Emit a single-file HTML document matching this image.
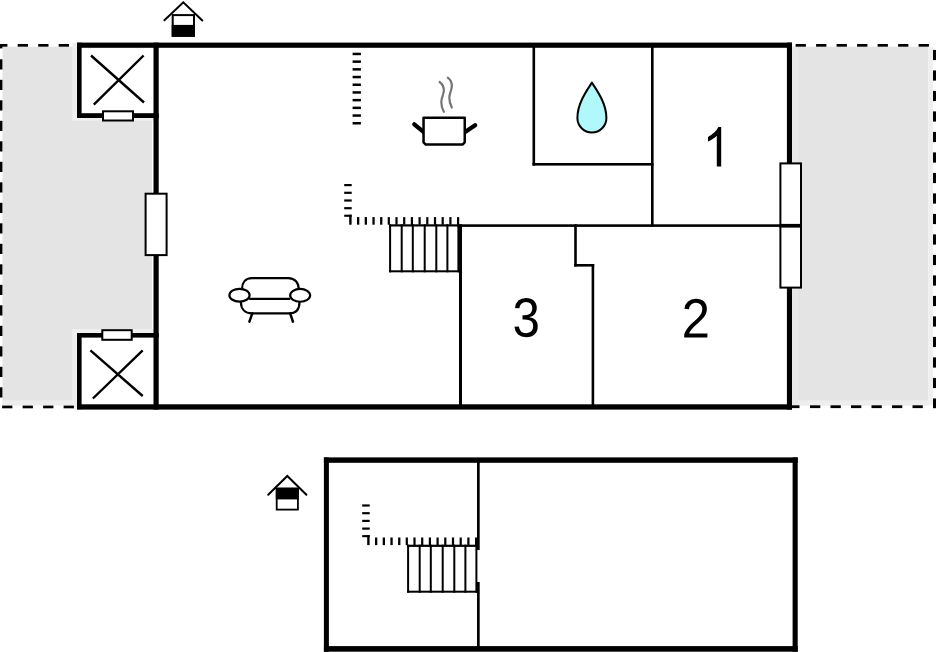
<!DOCTYPE html>
<html><head><meta charset="utf-8">
<style>
html,body{margin:0;padding:0;background:#fff;width:936px;height:652px;overflow:hidden}
svg{display:block}
text{font-family:"Liberation Sans",sans-serif}
</style></head>
<body>
<svg width="936" height="652" viewBox="0 0 936 652">
<!-- grey terraces -->
<rect x="2.5" y="46.7" width="149.5" height="358.6" fill="#e4e4e4"/>
<rect x="2.5" y="400.3" width="71" height="5" fill="#ededed"/>
<rect x="792" y="46.7" width="136.3" height="358.6" fill="#e4e4e4"/>
<rect x="792" y="46.7" width="6" height="358.6" fill="#e8e8e8"/>
<rect x="928.3" y="46.7" width="4.7" height="358.6" fill="#efefef"/>
<rect x="798" y="400.3" width="130.3" height="5" fill="#ededed"/>
<!-- closets white with halo -->
<rect x="72.3" y="42.7" width="82" height="78" fill="#efefef"/>
<rect x="72.3" y="329" width="82" height="80" fill="#efefef"/>
<rect x="77" y="42.7" width="81.7" height="75.3" fill="#fff"/>
<rect x="77" y="333" width="81.7" height="76" fill="#fff"/>

<!-- dashed borders -->
<g fill="#000">
  <!-- top-left -->
  <rect x="0" y="44" width="7.4" height="2.7"/>
  <rect x="17.7" y="44" width="10.3" height="2.7"/>
  <rect x="38.2" y="44" width="10.3" height="2.7"/>
  <rect x="58.7" y="44" width="10.3" height="2.7"/>
  <!-- left vertical -->
  <rect x="0" y="44" width="2.4" height="4.4"/>
  <g id="ldash">
  <rect x="0" y="59.3" width="2.4" height="10.2"/>
  <rect x="0" y="79.8" width="2.4" height="10.2"/>
  <rect x="0" y="100.3" width="2.4" height="10.2"/>
  <rect x="0" y="120.8" width="2.4" height="10.2"/>
  <rect x="0" y="141.3" width="2.4" height="10.2"/>
  <rect x="0" y="161.8" width="2.4" height="10.2"/>
  <rect x="0" y="182.3" width="2.4" height="10.2"/>
  <rect x="0" y="202.8" width="2.4" height="10.2"/>
  <rect x="0" y="223.3" width="2.4" height="10.2"/>
  <rect x="0" y="243.8" width="2.4" height="10.2"/>
  <rect x="0" y="264.3" width="2.4" height="10.2"/>
  <rect x="0" y="284.8" width="2.4" height="10.2"/>
  <rect x="0" y="305.3" width="2.4" height="10.2"/>
  <rect x="0" y="325.8" width="2.4" height="10.2"/>
  <rect x="0" y="346.3" width="2.4" height="10.2"/>
  <rect x="0" y="366.8" width="2.4" height="10.2"/>
  <rect x="0" y="387.3" width="2.4" height="10.2"/>
  </g>
  <!-- bottom-left -->
  <rect x="2.1" y="405.6" width="10.3" height="2.7"/>
  <rect x="22.6" y="405.6" width="10.3" height="2.7"/>
  <rect x="43.1" y="405.6" width="10.3" height="2.7"/>
  <rect x="63.6" y="405.6" width="10.3" height="2.7"/>
  <!-- top-right -->
  <rect x="795.6" y="44" width="10.3" height="2.7"/>
  <rect x="816.1" y="44" width="10.3" height="2.7"/>
  <rect x="836.6" y="44" width="10.3" height="2.7"/>
  <rect x="857.1" y="44" width="10.3" height="2.7"/>
  <rect x="877.6" y="44" width="10.3" height="2.7"/>
  <rect x="898.1" y="44" width="10.3" height="2.7"/>
  <rect x="918.6" y="44" width="10.3" height="2.7"/>
  <!-- right vertical -->
  <rect x="933" y="49.9" width="3" height="10.2"/>
  <rect x="933" y="70.4" width="3" height="10.2"/>
  <rect x="933" y="90.9" width="3" height="10.2"/>
  <rect x="933" y="111.4" width="3" height="10.2"/>
  <rect x="933" y="131.9" width="3" height="10.2"/>
  <rect x="933" y="152.4" width="3" height="10.2"/>
  <rect x="933" y="172.9" width="3" height="10.2"/>
  <rect x="933" y="193.4" width="3" height="10.2"/>
  <rect x="933" y="213.9" width="3" height="10.2"/>
  <rect x="933" y="234.4" width="3" height="10.2"/>
  <rect x="933" y="254.9" width="3" height="10.2"/>
  <rect x="933" y="275.4" width="3" height="10.2"/>
  <rect x="933" y="295.9" width="3" height="10.2"/>
  <rect x="933" y="316.4" width="3" height="10.2"/>
  <rect x="933" y="336.9" width="3" height="10.2"/>
  <rect x="933" y="357.4" width="3" height="10.2"/>
  <rect x="933" y="377.9" width="3" height="10.2"/>
  <rect x="933" y="398.4" width="3" height="9.8"/>
  <!-- bottom-right -->
  <rect x="792" y="405.3" width="7.5" height="2.8"/>
  <rect x="810" y="405.3" width="10.3" height="2.8"/>
  <rect x="830.5" y="405.3" width="10.3" height="2.8"/>
  <rect x="851" y="405.3" width="10.3" height="2.8"/>
  <rect x="871.5" y="405.3" width="10.3" height="2.8"/>
  <rect x="892" y="405.3" width="10.3" height="2.8"/>
  <rect x="912.5" y="405.3" width="10.3" height="2.8"/>
</g>

<!-- thick walls -->
<g fill="#000">
  <rect x="77" y="42.6" width="715" height="5.2"/>
  <rect x="77" y="404.3" width="715" height="5.3"/>
  <rect x="786.9" y="42.6" width="5.1" height="367"/>
  <rect x="153.5" y="42.6" width="5.2" height="367"/>
  <rect x="77" y="42.7" width="4.6" height="75.3"/>
  <rect x="77" y="113.2" width="81.7" height="4.8"/>
  <rect x="77" y="333" width="4.6" height="76.2"/>
  <rect x="77" y="333" width="81.7" height="4.6"/>
</g>

<!-- thin inner walls -->
<g fill="#000">
  <rect x="532.5" y="46" width="2.6" height="119.6"/>
  <rect x="532.5" y="163" width="121" height="2.6"/>
  <rect x="651" y="46" width="2.6" height="180.8"/>
  <rect x="457.5" y="224.3" width="331" height="2.6"/>
  <rect x="459" y="224.3" width="3" height="182"/>
  <rect x="574.2" y="224.3" width="2.6" height="42.2"/>
  <rect x="574.2" y="264" width="20" height="2.6"/>
  <rect x="591.6" y="264" width="2.6" height="142"/>
</g>

<!-- X marks in closets -->
<g stroke="#000" stroke-width="2.4" fill="none">
  <path d="M91 55.5 L144 102.5 M143.6 55.5 L93.8 104.6"/>
  <path d="M90.4 350.4 L142.7 396 M142.7 350.4 L92.9 398.5"/>
</g>

<!-- windows -->
<g fill="#fff" stroke="#000" stroke-width="2">
  <rect x="103" y="111.3" width="30" height="9.2"/>
  <rect x="102.3" y="330.2" width="29.4" height="9.6"/>
  <rect x="145.6" y="193.7" width="21" height="61.4"/>
  <rect x="780.4" y="163.4" width="20.6" height="124.2"/>
</g>
<rect x="779.4" y="223.9" width="22.6" height="3.7" fill="#000"/>

<!-- stairs upper -->
<g fill="#000">
  <rect x="344.2" y="184" width="7.5" height="2.2"/>
  <rect x="344.2" y="191.7" width="7.5" height="2.2"/>
  <rect x="344.2" y="199.4" width="7.5" height="2.2"/>
  <rect x="344.2" y="207.1" width="7.5" height="2.2"/>
  <rect x="344.2" y="214.7" width="7.5" height="2.1"/>
  <rect x="349.2" y="214.7" width="2.4" height="10"/>
  <rect x="357" y="217.1" width="2.3" height="7.6"/>
  <rect x="364.7" y="217.1" width="2.3" height="7.6"/>
  <rect x="372.4" y="217.1" width="2.3" height="7.6"/>
  <rect x="380.1" y="217.1" width="2.3" height="7.6"/>
  <rect x="387.7" y="217.1" width="2.2" height="7.6"/>
  <rect x="395.4" y="217.1" width="2.2" height="7.6"/>
  <rect x="403.1" y="217.1" width="2.2" height="7.6"/>
  <rect x="410.8" y="217.1" width="2.2" height="7.6"/>
  <rect x="418.5" y="217.1" width="2.2" height="7.6"/>
  <rect x="426.2" y="217.1" width="2.2" height="7.6"/>
  <rect x="433.9" y="217.1" width="2.2" height="7.6"/>
  <rect x="441.6" y="217.1" width="2.2" height="7.6"/>
  <rect x="449.3" y="217.1" width="2.2" height="7.6"/>
  <rect x="457" y="217.1" width="2.2" height="7.6"/>
  <rect x="389.1" y="224.3" width="70" height="2.2"/>
  <rect x="389.1" y="270.3" width="70" height="2"/>
  <rect x="389.1" y="224.3" width="2" height="48"/>
  <rect x="400.7" y="224.3" width="2" height="48"/>
  <rect x="411.8" y="224.3" width="2" height="48"/>
  <rect x="423.7" y="224.3" width="2" height="48"/>
  <rect x="435.3" y="224.3" width="2" height="48"/>
  <rect x="446.4" y="224.3" width="2" height="48"/>
  <rect x="457.4" y="224.3" width="2" height="48"/>
</g>
<!-- long tick line top -->
<g fill="#000">
  <rect x="352.6" y="52.7" width="8.3" height="2.5"/>
  <rect x="352.6" y="60.4" width="8.3" height="2.5"/>
  <rect x="352.6" y="68.1" width="8.3" height="2.5"/>
  <rect x="352.6" y="75.8" width="8.3" height="2.5"/>
  <rect x="352.6" y="83.5" width="8.3" height="2.5"/>
  <rect x="352.6" y="91.2" width="8.3" height="2.5"/>
  <rect x="352.6" y="98.9" width="8.3" height="2.5"/>
  <rect x="352.6" y="106.6" width="8.3" height="2.5"/>
  <rect x="352.6" y="114.3" width="8.3" height="2.5"/>
  <rect x="352.6" y="122" width="8.3" height="2.5"/>
</g>

<!-- pot -->
<g>
  <path d="M439.6 82 C442.5 84,444 87,443.8 91 C443.5 95,441.3 98,441.3 102 C441.3 106,442.5 109.5,443.8 111.8" stroke="#747474" stroke-width="2.2" fill="none" stroke-linecap="round"/>
  <path d="M447.8 77.6 C450.5 79.5,452 82.5,451.8 86.5 C451.6 90.5,449.3 93.5,449.3 97.5 C449.3 101.5,450.5 105,451.8 107.5" stroke="#747474" stroke-width="2.2" fill="none" stroke-linecap="round"/>
  <path d="M414.3 124.3 L423.5 131.8 M475.1 125.2 L465.5 131.8" stroke="#000" stroke-width="4.3" stroke-linecap="round"/>
  <path d="M423.55 117.65 L464.75 117.65 L464.75 142.3 L462.5 144.55 L425.8 144.55 L423.55 142.3 Z" stroke="#000" stroke-width="2.5" fill="#fff" stroke-linejoin="round"/>
</g>

<!-- drop -->
<path d="M591.9 82.6 C587.5 89.5,577.4 103,577.4 118 A14.5 14.5 0 0 0 606.4 118 C606.4 103,596.3 89.5,591.9 82.6 Z" fill="#b0f8f9" stroke="#000" stroke-width="2" stroke-linejoin="round"/>

<!-- sofa -->
<g stroke="#000" stroke-width="2.2" fill="none" stroke-linecap="round">
  <path d="M242 289 C242 283,245 278.2,252 278.2 L288.3 278.2 C295 278.2,298.7 283,298.7 289"/>
  <path d="M250 298.9 L289.5 298.9"/>
  <path d="M240.9 302 C240.9 309,245 313.4,252 313.4 L289 313.4 C296 313.4,299.5 309,299.5 302"/>
  <path d="M252.3 313.4 L249.4 321.6 M290.2 313.4 L292.9 321.6" stroke-width="2.5"/>
  <ellipse cx="239.5" cy="295.2" rx="10.1" ry="6.4" fill="#fff"/>
  <ellipse cx="300.15" cy="295.35" rx="10" ry="6.4" fill="#fff"/>
</g>

<!-- entrance icons -->
<g>
  <path d="M164.4 20.2 L183.3 2.3 L202.3 20.5" stroke="#000" stroke-width="2" fill="none" stroke-linecap="round"/>
  <rect x="172.7" y="15.1" width="21.3" height="20.7" stroke="#000" stroke-width="2" fill="#fff"/>
  <rect x="171.7" y="24.9" width="23.3" height="11.9" fill="#000"/>
  <path d="M268.2 494.8 L287.3 476 L306.4 494.8" stroke="#000" stroke-width="2" fill="none" stroke-linecap="round"/>
  <rect x="276.7" y="488.6" width="21.2" height="21" stroke="#000" stroke-width="1.8" fill="#fff"/>
  <rect x="275.8" y="487.7" width="23" height="11.7" fill="#000"/>
</g>

<!-- numbers -->
<g fill="#000">
  <path transform="translate(702.55 166.4) scale(0.02444 -0.0267)" d="M763 0H583V1147Q518 1085 412.5 1023T223 930V1104Q374 1175 487 1276T647 1472H763V0Z"/>
  <path transform="translate(681.64 337.6) scale(0.02487 -0.0272)" d="M103 0V127Q154 244 227.5 333.5Q301 423 382.0 495.5Q463 568 542.5 630.0Q622 692 686.0 754.0Q750 816 789.5 884.0Q829 952 829 1038Q829 1154 761.0 1218.0Q693 1282 572 1282Q457 1282 382.5 1219.5Q308 1157 295 1044L111 1061Q131 1230 254.5 1330.0Q378 1430 572 1430Q785 1430 899.5 1329.5Q1014 1229 1014 1044Q1014 962 976.5 881.0Q939 800 865.0 719.0Q791 638 582 468Q467 374 399.0 298.5Q331 223 301 153H1036V0Z"/>
  <path transform="translate(512.53 336.65) scale(0.024 -0.02703)" d="M1049 389Q1049 194 925.0 87.0Q801 -20 571 -20Q357 -20 229.5 76.5Q102 173 78 362L264 379Q300 129 571 129Q707 129 784.5 196.0Q862 263 862 395Q862 510 773.5 574.5Q685 639 518 639H416V795H514Q662 795 743.5 859.5Q825 924 825 1038Q825 1151 758.5 1216.5Q692 1282 561 1282Q442 1282 368.5 1221.0Q295 1160 283 1049L102 1063Q122 1236 245.5 1333.0Q369 1430 563 1430Q775 1430 892.5 1331.5Q1010 1233 1010 1057Q1010 922 934.5 837.5Q859 753 715 723V719Q873 702 961.0 613.0Q1049 524 1049 389Z"/>
</g>

<!-- lower plan -->
<g fill="#000">
  <rect x="323.9" y="457.4" width="473.8" height="5.4"/>
  <rect x="323.9" y="646.1" width="473.8" height="5.6"/>
  <rect x="323.9" y="457.4" width="5" height="194.3"/>
  <rect x="792.6" y="457.4" width="5.1" height="194.3"/>
  <rect x="477" y="460" width="2.7" height="90"/>
  <rect x="477" y="582" width="2.7" height="66"/>
</g>
<g fill="#000" transform="translate(18 320.4)">
  <rect x="344.2" y="184" width="7.5" height="2.2"/>
  <rect x="344.2" y="191.7" width="7.5" height="2.2"/>
  <rect x="344.2" y="199.4" width="7.5" height="2.2"/>
  <rect x="344.2" y="207.1" width="7.5" height="2.2"/>
  <rect x="344.2" y="214.7" width="7.5" height="2.1"/>
  <rect x="349.2" y="214.7" width="2.4" height="10"/>
  <rect x="357" y="217.1" width="2.3" height="7.6"/>
  <rect x="364.7" y="217.1" width="2.3" height="7.6"/>
  <rect x="372.4" y="217.1" width="2.3" height="7.6"/>
  <rect x="380.1" y="217.1" width="2.3" height="7.6"/>
  <rect x="387.7" y="217.1" width="2.2" height="7.6"/>
  <rect x="395.4" y="217.1" width="2.2" height="7.6"/>
  <rect x="403.1" y="217.1" width="2.2" height="7.6"/>
  <rect x="410.8" y="217.1" width="2.2" height="7.6"/>
  <rect x="418.5" y="217.1" width="2.2" height="7.6"/>
  <rect x="426.2" y="217.1" width="2.2" height="7.6"/>
  <rect x="433.9" y="217.1" width="2.2" height="7.6"/>
  <rect x="441.6" y="217.1" width="2.2" height="7.6"/>
  <rect x="449.3" y="217.1" width="2.2" height="7.6"/>
  <rect x="457" y="217.1" width="2.2" height="7.6"/>
  <rect x="389.1" y="224.3" width="70" height="2.2"/>
  <rect x="389.1" y="270.3" width="70" height="2"/>
  <rect x="389.1" y="224.3" width="2" height="48"/>
  <rect x="400.7" y="224.3" width="2" height="48"/>
  <rect x="411.8" y="224.3" width="2" height="48"/>
  <rect x="423.7" y="224.3" width="2" height="48"/>
  <rect x="435.3" y="224.3" width="2" height="48"/>
  <rect x="446.4" y="224.3" width="2" height="48"/>
  <rect x="457.4" y="224.3" width="2" height="48"/>
</g>
</svg>
</body></html>
